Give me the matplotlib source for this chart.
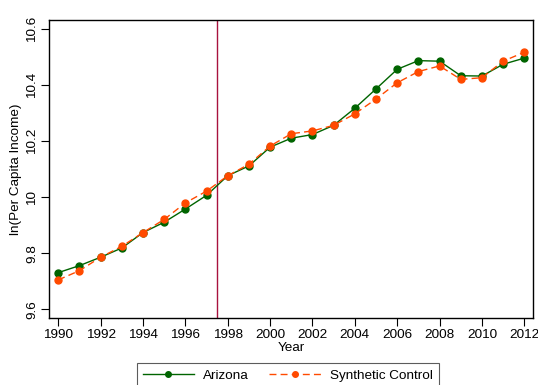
import matplotlib
matplotlib.use("Agg")
import matplotlib.pyplot as plt

plt.rcParams['font.family'] = ['Liberation Sans', 'DejaVu Sans']

years = list(range(1990, 2013))
arizona = [9.731, 9.756, 9.786, 9.819, 9.874, 9.911, 9.958, 10.007, 10.077,
           10.112, 10.179, 10.211, 10.224, 10.257, 10.318, 10.387, 10.457,
           10.488, 10.486, 10.434, 10.433, 10.475, 10.497]
synthetic = [9.705, 9.738, 9.786, 9.825, 9.874, 9.921, 9.980, 10.022, 10.077,
             10.118, 10.183, 10.227, 10.237, 10.257, 10.298, 10.351, 10.409,
             10.449, 10.469, 10.421, 10.427, 10.486, 10.518]
yticks = [9.6, 9.8, 10.0, 10.2, 10.4, 10.6]
ytick_labels = ['9.6', '9.8', '10', '10.2', '10.4', '10.6']
xticks = list(range(1990, 2013, 2))
treatment_year = 1997.5

fig = plt.figure(figsize=(5.38, 3.85), dpi=100)
ax = fig.add_axes([0.0916, 0.1748, 0.8991, 0.7732])

ax.axvline(treatment_year, color='#a8123e', linewidth=1.0, zorder=1)
ax.plot(years, arizona, color='#006400', marker='o', markersize=5,
        linewidth=1.0, label='Arizona', zorder=3)
ax.plot(years, synthetic, color='#ff4a00', marker='o', markersize=5,
        linewidth=1.0, linestyle=(0, (5, 3)), label='Synthetic Control', zorder=4)

ax.set_xlim(1989.575, 2012.41)
ax.set_ylim(9.570, 10.633)
ax.set_xticks(xticks)
ax.set_yticks(yticks)
ax.set_yticklabels(ytick_labels, rotation=90, va='center')
ax.tick_params(direction='out', length=6, width=0.8, labelsize=9.7,
               colors='black', pad=2)
for s in ax.spines.values():
    s.set_linewidth(1.0)

ax.set_xlabel('Year', fontsize=9.7, labelpad=1)
ax.set_ylabel('ln(Per Capita Income)', fontsize=9.7, labelpad=3)

# legend sits below the axes, partly running off the bottom edge like the original
leg = fig.legend(loc='upper center', bbox_to_anchor=(0.535, 0.057), ncol=2,
                 fontsize=9.7, frameon=True, fancybox=False, handlelength=3.8,
                 handletextpad=0.7, columnspacing=1.5, borderpad=0.45,
                 borderaxespad=0, markerscale=0.8)
leg.get_frame().set_edgecolor('#333333')
leg.get_frame().set_linewidth(0.8)

fig.savefig('out.png', dpi=100)
